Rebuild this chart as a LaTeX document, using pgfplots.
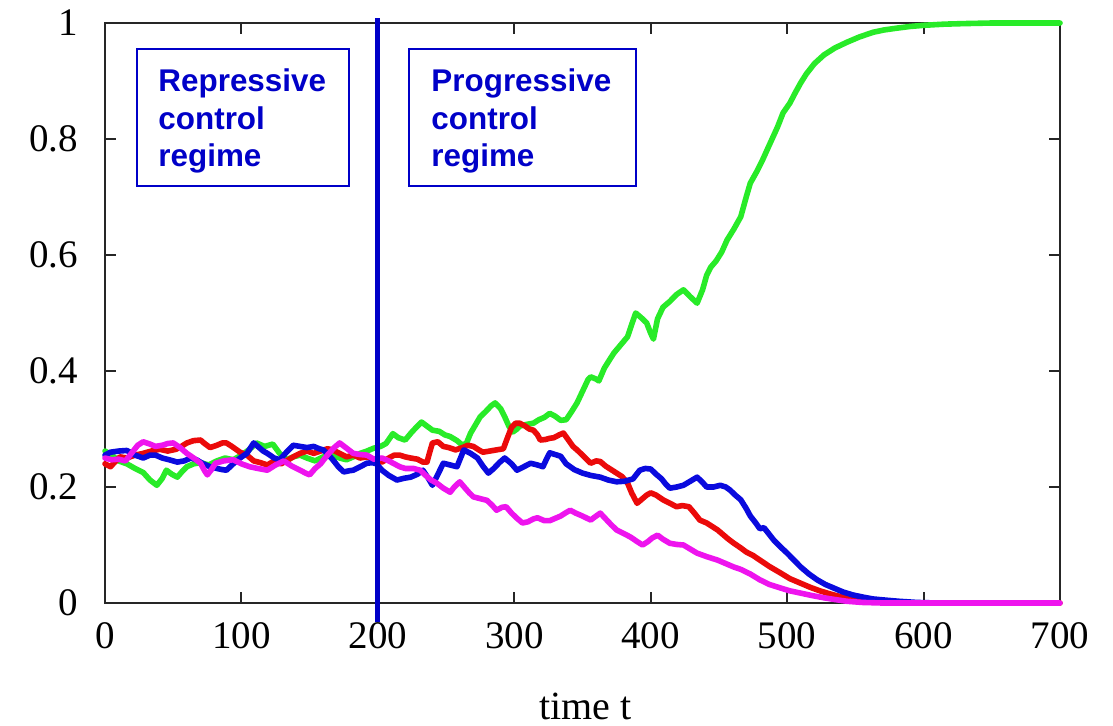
\documentclass[border=0pt]{standalone}
\usepackage{pgfplots}
\pgfplotsset{compat=1.18}
\usepackage{fontspec}
\setmainfont{Liberation Serif}
\newfontfamily\boxfont{Liberation Sans}
\definecolor{cgreen}{RGB}{40,235,40}
\definecolor{cred}{RGB}{235,10,10}
\definecolor{cblue}{RGB}{10,10,222}
\definecolor{cmag}{RGB}{238,20,238}
\definecolor{boxblue}{RGB}{0,0,200}

\pgfplotstableread{
t y
0 0.262
5 0.255
10 0.245
16 0.24
22 0.232
28 0.225
33 0.212
38 0.203
42 0.215
45 0.229
49 0.222
53 0.217
57 0.228
60 0.235
65 0.24
70 0.242
76 0.238
82 0.245
88 0.25
94 0.247
100 0.255
106 0.265
111 0.276
117 0.27
123 0.274
128 0.258
133 0.247
138 0.252
143 0.255
148 0.25
154 0.245
160 0.252
166 0.255
172 0.25
177 0.247
182 0.252
187 0.258
192 0.262
197 0.267
202 0.27
206 0.275
211 0.292
215 0.285
220 0.281
225 0.295
229 0.305
232 0.312
236 0.305
240 0.298
245 0.296
249 0.29
253 0.287
258 0.28
262 0.272
265 0.276
268 0.293
271 0.305
275 0.321
279 0.33
283 0.34
286 0.345
290 0.335
293 0.321
296 0.305
299 0.295
302 0.3
304 0.305
309 0.308
314 0.31
318 0.316
322 0.32
326 0.327
330 0.322
334 0.315
338 0.316
342 0.33
346 0.345
350 0.365
354 0.385
356 0.39
360 0.386
362 0.383
366 0.405
370 0.42
373 0.431
378 0.445
383 0.459
386 0.48
389 0.50
393 0.492
397 0.483
400 0.465
402 0.455
405 0.49
409 0.51
414 0.52
419 0.532
424 0.54
429 0.528
434 0.517
438 0.54
441 0.565
444 0.579
448 0.59
452 0.605
456 0.626
461 0.645
466 0.666
470 0.70
473 0.724
478 0.745
482 0.764
487 0.79
493 0.821
497 0.845
502 0.862
506 0.88
510 0.897
514 0.912
520 0.93
527 0.945
535 0.957
544 0.967
553 0.976
563 0.984
571 0.988
580 0.991
590 0.994
600 0.996
615 0.998
630 0.999
650 1.0
700 1.0
}\green

\pgfplotstableread{
t y
0 0.24
4 0.235
8 0.245
11 0.252
16 0.25
22 0.255
28 0.258
34 0.262
40 0.265
46 0.262
52 0.265
56 0.27
60 0.276
65 0.28
70 0.281
73 0.275
77 0.268
82 0.272
86 0.276
89 0.276
93 0.27
99 0.26
104 0.255
109 0.245
114 0.242
119 0.238
124 0.245
129 0.24
133 0.245
138 0.252
143 0.258
148 0.262
153 0.258
158 0.262
163 0.266
167 0.264
172 0.258
177 0.252
182 0.255
187 0.25
192 0.252
197 0.248
203 0.243
208 0.25
212 0.255
216 0.255
220 0.252
224 0.25
229 0.248
233 0.243
236 0.243
238 0.26
240 0.276
244 0.278
248 0.27
252 0.268
257 0.264
262 0.268
266 0.272
270 0.27
274 0.264
277 0.26
282 0.262
287 0.264
292 0.266
295 0.285
298 0.303
301 0.31
304 0.31
308 0.305
311 0.3
314 0.298
317 0.29
319 0.281
323 0.282
326 0.284
329 0.285
333 0.29
336 0.293
340 0.28
343 0.27
346 0.264
350 0.255
353 0.248
356 0.241
360 0.245
363 0.244
367 0.236
371 0.23
375 0.224
379 0.218
383 0.207
386 0.19
390 0.172
394 0.18
397 0.186
400 0.19
404 0.186
409 0.178
414 0.172
419 0.166
423 0.168
428 0.166
432 0.155
436 0.143
441 0.138
445 0.132
449 0.126
453 0.118
457 0.11
461 0.103
466 0.095
470 0.088
475 0.082
480 0.074
487 0.063
495 0.052
502 0.042
510 0.034
517 0.027
524 0.021
531 0.016
539 0.011
547 0.007
554 0.004
565 0.002
580 0.0005
600 0
700 0
}\red

\pgfplotstableread{
t y
0 0.255
4 0.26
10 0.262
16 0.263
22 0.255
28 0.25
33 0.255
37 0.255
42 0.25
47 0.247
53 0.243
58 0.245
63 0.25
67 0.247
72 0.24
77 0.235
82 0.232
86 0.23
89 0.229
94 0.24
99 0.25
104 0.258
109 0.276
112 0.27
116 0.262
119 0.258
124 0.25
128 0.247
133 0.26
138 0.272
143 0.27
148 0.268
153 0.27
157 0.266
160 0.264
164 0.255
167 0.247
171 0.235
175 0.226
179 0.228
182 0.229
187 0.235
192 0.241
196 0.242
199 0.24
203 0.229
208 0.22
214 0.212
219 0.215
224 0.217
229 0.222
233 0.229
237 0.215
240 0.203
244 0.222
248 0.241
253 0.238
258 0.235
263 0.264
268 0.258
273 0.25
277 0.236
281 0.224
285 0.232
289 0.242
293 0.25
298 0.24
302 0.229
307 0.235
312 0.241
317 0.238
321 0.235
324 0.25
326 0.259
330 0.256
334 0.253
338 0.24
344 0.23
350 0.224
356 0.22
363 0.217
369 0.212
375 0.209
381 0.21
387 0.214
392 0.229
396 0.232
400 0.231
404 0.222
408 0.214
411 0.205
414 0.198
419 0.2
424 0.203
429 0.21
434 0.217
438 0.208
441 0.2
446 0.2
451 0.203
455 0.2
458 0.195
462 0.186
466 0.178
470 0.163
473 0.15
477 0.138
480 0.128
483 0.13
487 0.118
490 0.109
495 0.097
500 0.086
505 0.074
510 0.062
516 0.05
522 0.04
528 0.032
534 0.026
541 0.019
548 0.014
556 0.01
563 0.007
572 0.005
582 0.003
595 0.001
610 0
670 0
}\blue

\pgfplotstableread{
t y
0 0.25
5 0.247
10 0.248
15 0.245
20 0.26
24 0.272
28 0.278
33 0.274
37 0.27
42 0.272
46 0.275
50 0.276
55 0.268
60 0.258
65 0.25
70 0.241
73 0.228
75 0.221
78 0.23
81 0.241
87 0.245
94 0.247
100 0.24
106 0.235
112 0.232
119 0.229
125 0.238
131 0.245
137 0.236
143 0.229
147 0.224
150 0.221
154 0.232
158 0.24
163 0.255
168 0.268
172 0.276
177 0.267
182 0.258
187 0.256
192 0.255
197 0.248
203 0.25
208 0.245
212 0.24
216 0.235
220 0.232
226 0.232
231 0.229
235 0.22
239 0.212
243 0.207
248 0.198
253 0.191
256 0.2
260 0.209
264 0.198
267 0.19
270 0.183
275 0.18
280 0.177
284 0.168
287 0.16
291 0.165
294 0.166
298 0.155
302 0.146
306 0.138
310 0.14
314 0.145
317 0.147
322 0.142
326 0.142
330 0.146
334 0.15
338 0.156
341 0.16
345 0.155
350 0.15
356 0.143
360 0.15
363 0.155
367 0.145
371 0.135
375 0.126
380 0.12
385 0.114
390 0.106
394 0.1
398 0.106
401 0.112
405 0.117
409 0.11
414 0.103
419 0.101
424 0.1
429 0.093
434 0.086
441 0.08
449 0.074
455 0.068
461 0.062
466 0.058
473 0.05
480 0.04
487 0.032
495 0.026
502 0.021
510 0.017
518 0.013
527 0.009
535 0.006
544 0.003
555 0.001
570 0
700 0
}\magenta

\begin{document}
\begin{tikzpicture}
\begin{axis}[
  scale only axis, width=477.5pt, height=290pt,
  xmin=0, xmax=700, ymin=0, ymax=1,
  xtick={0,100,200,300,400,500,600,700},
  ytick={0,0.2,0.4,0.6,0.8,1},
  yticklabels={0,0.2,0.4,0.6,0.8,1},
  tick align=inside, tick pos=both,
  major tick length=5.5pt,
  axis line style={line width=1pt, black!85},
  every tick/.style={black!85, line width=1pt},
  /pgf/number format/assume math mode=true,
  ticklabel style={font=\fontsize{19.5}{22}\selectfont},
  xticklabel style={yshift=-6pt},
  yticklabel style={xshift=-10pt},
  xlabel={time t},
  xlabel style={font=\fontsize{20}{24}\selectfont, at={(rel axis cs:0.503,0)}, anchor=base, yshift=-58pt},
  clip=false,
  every axis plot/.append style={line width=2.8pt, line join=round, line cap=round},
]
\coordinate (sw) at (rel axis cs:0,0);
\coordinate (ne) at (rel axis cs:1,1);
\addplot[cgreen] table[x=t,y=y] {\green};
\addplot[cred] table[x=t,y=y] {\red};
\addplot[cblue] table[x=t,y=y] {\blue};
\addplot[cmag] table[x=t,y=y] {\magenta};
\addplot[boxblue, line width=2.6pt, line cap=butt] coordinates {(200,-0.033) (200,1.009)};
\draw[boxblue, line width=1pt, fill=white] (axis cs:23.5,0.955) rectangle (axis cs:178.9,0.719);
\draw[boxblue, line width=1pt, fill=white] (axis cs:222.9,0.955) rectangle (axis cs:389.3,0.719);
\node[anchor=north west, inner sep=0pt, align=left, text=boxblue,
  font=\boxfont\bfseries\fontsize{15.7}{18.75}\selectfont] at (axis cs:38.9,0.921) {Repressive\\control\\regime};
\node[anchor=north west, inner sep=0pt, align=left, text=boxblue,
  font=\boxfont\bfseries\fontsize{15.7}{18.75}\selectfont] at (axis cs:239,0.921) {Progressive\\control\\regime};
\end{axis}
\pgfresetboundingbox
\path[use as bounding box] ([xshift=-52.5pt,yshift=-61pt]sw) rectangle ([xshift=26.5pt,yshift=11.5pt]ne);
\end{tikzpicture}
\end{document}
